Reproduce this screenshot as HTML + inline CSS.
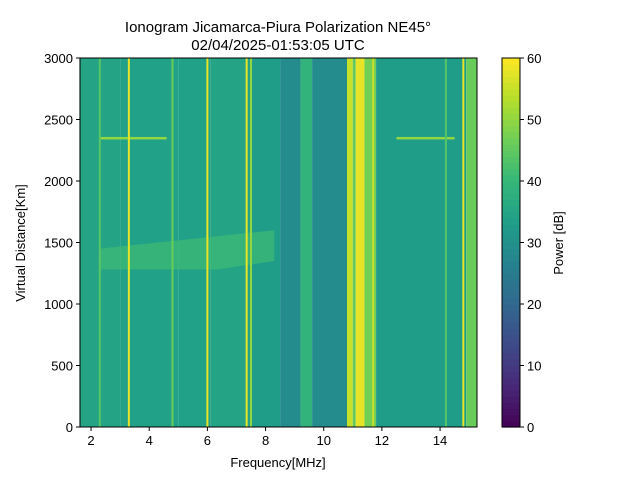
<!DOCTYPE html>
<html><head><meta charset="utf-8"><style>
body{margin:0;background:#fff;font-family:"Liberation Sans",sans-serif}
svg text{font-family:"Liberation Sans",sans-serif;fill:#000}
</style></head><body>
<svg id="c" width="640" height="480" xmlns="http://www.w3.org/2000/svg">
<text x="278" y="32" font-size="15" text-anchor="middle">Ionogram Jicamarca-Piura Polarization NE45°</text>
<text x="278" y="50" font-size="15" text-anchor="middle">02/04/2025-01:53:05 UTC</text>
<g id="plot"></g>
<g id="axes"></g>
<text x="278" y="467" font-size="13" text-anchor="middle">Frequency[MHz]</text>
<text transform="translate(25,243) rotate(-90)" font-size="13" text-anchor="middle">Virtual Distance[Km]</text>
<text transform="translate(563,243) rotate(-90)" font-size="13" text-anchor="middle">Power [dB]</text>
</svg>
<script>
// data
const bandStarts=[1.6,3.0,5.0,6.1,7.5,8.5,9.2,9.6,10.8,11.0,11.1,11.4,11.8,14.9];
const bandPower =[35,34,34,35,33,29,39,29,55,45,58,47,33,46];
const lineFreqs=[2.3,3.3,4.8,6.0,7.35,7.5,11.7,14.2,14.8];
const linePower=[44,58,46,58,58,50,55,44,58];
const patchFreq=[2.3,8.3];
const patchKm=[1280,1600];
const patchPower=41;
const echoKm=2350;
const echoRanges=[[2.3,4.6],[12.5,14.5]];
const xTicks=[2,4,6,8,10,12,14];
const yTicks=[0,500,1000,1500,2000,2500,3000];
const cTicks=[0,10,20,30,40,50,60];

const X0=80,X1=477,Y0=427,Y1=58,fMin=1.62,fMax=15.27;
const xs=f=>X0+(f-fMin)/(fMax-fMin)*(X1-X0);
const ys=k=>Y0-k/3000*(Y0-Y1);
const stops=[[68,1,84],[72,40,120],[62,74,137],[49,104,142],[38,130,142],[31,158,137],[53,183,121],[110,206,88],[181,222,43],[253,231,37]];
function vir(v){let t=Math.max(0,Math.min(1,v/60))*(stops.length-1);let i=Math.min(Math.floor(t),stops.length-2),u=t-i;
 const a=stops[i],b=stops[i+1];return `rgb(${a.map((c,j)=>Math.round(c+(b[j]-c)*u)).join(',')})`;}
const NS="http://www.w3.org/2000/svg";
function el(tag,at,p){const e=document.createElementNS(NS,tag);for(const k in at)e.setAttribute(k,at[k]);p.appendChild(e);return e;}
const plot=document.getElementById('plot'),axes=document.getElementById('axes');
for(let i=0;i<bandStarts.length;i++){
 const a=bandStarts[i],b=i+1<bandStarts.length?bandStarts[i+1]:fMax;
 const r=el('rect',{x:xs(a),y:Y1,width:xs(b)-xs(a),height:Y0-Y1,fill:vir(bandPower[i])},plot);
 
 
}
{const r=el('polygon',{points:`${xs(patchFreq[0])},${ys(patchKm[0])} ${xs(6.3)},${ys(patchKm[0])} ${xs(patchFreq[1])},${ys(1350)} ${xs(patchFreq[1])},${ys(patchKm[1])} ${xs(patchFreq[0])},${ys(1450)}`,fill:vir(patchPower),opacity:0.7},plot);
 
 }
for(const [a,b] of echoRanges){const r=el('rect',{x:xs(a),y:ys(echoKm)-1,width:xs(b)-xs(a),height:2.5,fill:vir(50)},plot);
 
 }
for(let i=0;i<lineFreqs.length;i++){const r=el('rect',{x:xs(lineFreqs[i])-1,y:Y1,width:2,height:Y0-Y1,fill:vir(linePower[i])},plot);
 
 }
el('rect',{x:X0,y:Y1,width:X1-X0,height:Y0-Y1,fill:'none',stroke:'#000','stroke-width':1},axes);
for(const t of xTicks){const x=xs(t);el('line',{x1:x,x2:x,y1:Y0,y2:Y0+4,stroke:'#000'},axes);
 const tx=el('text',{x:x,y:Y0+18,'font-size':13,'text-anchor':'middle'},axes);tx.textContent=t;
 
 }
for(const t of yTicks){const y=ys(t);el('line',{x1:X0-4,x2:X0,y1:y,y2:y,stroke:'#000'},axes);
 const tx=el('text',{x:X0-7,y:y+5,'font-size':13,'text-anchor':'end'},axes);tx.textContent=t;
 
 }
// colorbar
const CX=502,CW=18;
for(let i=0;i<60;i++){const y0=Y0-(i+1)/60*(Y0-Y1);const r=el('rect',{x:CX,y:y0,width:CW,height:(Y0-Y1)/60+0.6,fill:vir(i+0.5)},axes);
 
 }
el('rect',{x:CX,y:Y1,width:CW,height:Y0-Y1,fill:'none',stroke:'#000'},axes);
for(const t of cTicks){const y=Y0-t/60*(Y0-Y1);el('line',{x1:CX+CW,x2:CX+CW+4,y1:y,y2:y,stroke:'#000'},axes);
 const tx=el('text',{x:CX+CW+7,y:y+5,'font-size':13},axes);tx.textContent=t;
 
 }
</script>
</body></html>
